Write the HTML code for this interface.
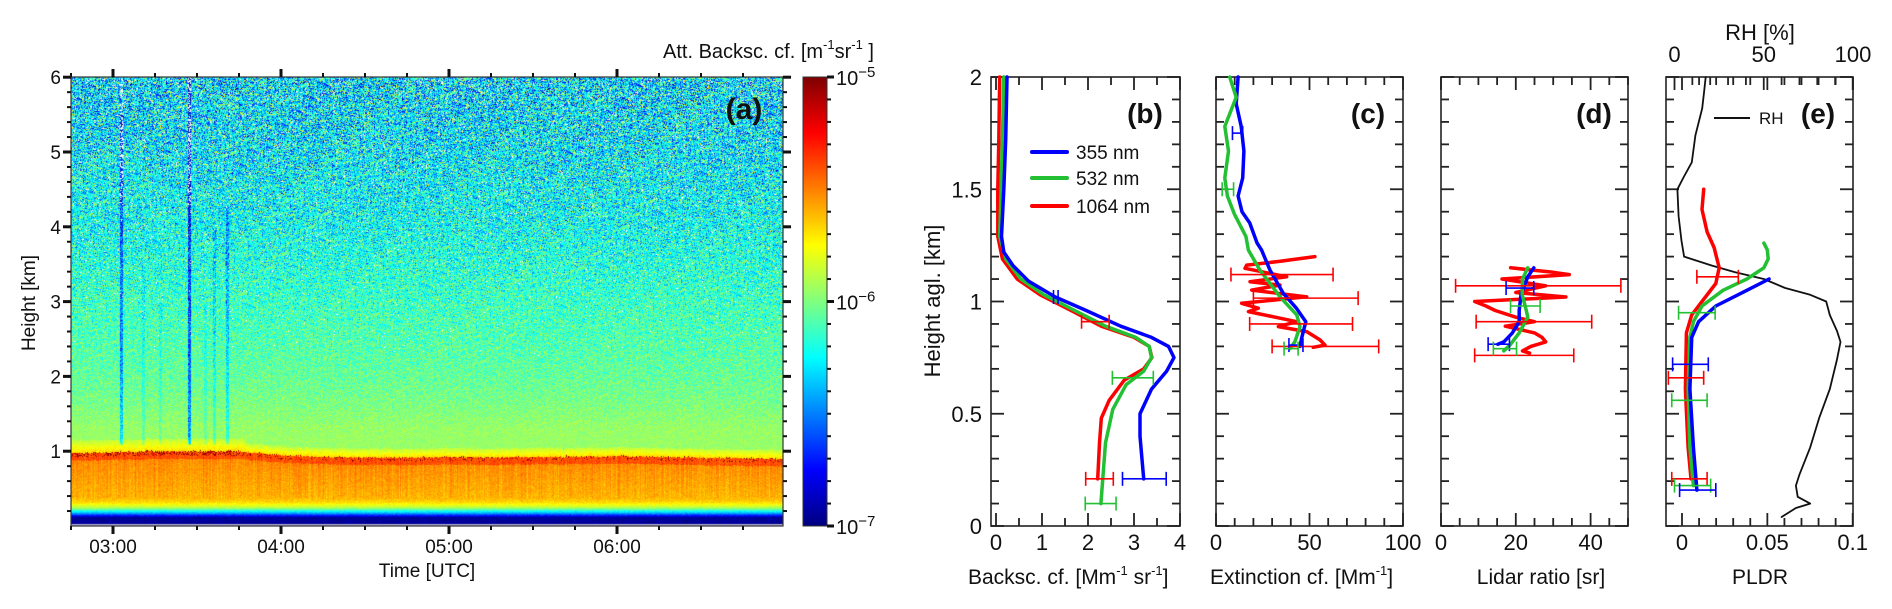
<!DOCTYPE html>
<html><head><meta charset="utf-8">
<style>
html,body{margin:0;padding:0;background:#fff;}
#wrap{position:relative;width:1892px;height:609px;overflow:hidden;font-family:"Liberation Sans",Arial,sans-serif;}
#heat{position:absolute;left:71px;top:77px;}
#svg{position:absolute;left:0;top:0;}
</style></head>
<body>
<div id="wrap">
<canvas id="heat" width="712" height="449"></canvas>
<svg id="svg" width="1892" height="609" xmlns="http://www.w3.org/2000/svg">
<defs>
<linearGradient id="jet" x1="0" y1="1" x2="0" y2="0">
<stop offset="0" stop-color="#00007f"/><stop offset="0.125" stop-color="#0000ff"/>
<stop offset="0.375" stop-color="#00ffff"/><stop offset="0.625" stop-color="#ffff00"/>
<stop offset="0.875" stop-color="#ff0000"/><stop offset="1" stop-color="#7f0000"/>
</linearGradient>
</defs>
<g id="layer"></g>
</svg>
</div>
<script>
// ---------- Panel (a) quicklook data ----------
const timeStartHr = 2.75, timeEndHr = 6.988;
const timeTicks = [3,4,5,6];
const timeTickLabels = ["03:00","04:00","05:00","06:00"];
const heightTicksA = [1,2,3,4,5,6];
const cloudTopTimes = [2.75,3.0,3.25,3.5,3.75,4.0,4.25,4.5,4.75,5.0,5.25,5.5,5.75,6.0,6.25,6.5,6.75,7.0];
const cloudTopKm   = [0.98,0.99,1.0,1.0,1.0,0.95,0.93,0.92,0.92,0.93,0.92,0.93,0.93,0.94,0.93,0.92,0.91,0.9];
const upperHeights = [1.3,1.6,2,3,4,5,6];
const upperLog     = [-5.95,-6.0,-6.05,-6.13,-6.22,-6.27,-6.3];
const streakTimes    = [3.05,3.18,3.28,3.45,3.55,3.6,3.68];
const streakStrength = [0.5,0.15,0.12,0.65,0.12,0.2,0.3];
const streakTopKm    = [5.5,3.5,3.0,6.0,3.0,4.0,4.3];
const cbarTickLabels = ["−5","−6","−7"];

// ---------- Panels (b)-(e) profile data ----------
const bH355=[2.0,1.72,1.5,1.29,1.22,1.16,1.09,1.02,0.96,0.89,0.84,0.80,0.75,0.69,0.61,0.50,0.40,0.21];
const bV355=[0.24,0.21,0.17,0.12,0.17,0.37,0.71,1.29,1.96,2.71,3.38,3.75,3.87,3.71,3.38,3.13,3.13,3.21];
const bH532=[2.0,1.72,1.5,1.29,1.19,1.10,1.03,0.96,0.89,0.84,0.80,0.75,0.69,0.63,0.52,0.37,0.10];
const bV532=[0.17,0.14,0.11,0.08,0.21,0.54,1.04,1.71,2.38,3.04,3.33,3.38,3.21,2.83,2.54,2.38,2.28];
const bH1064=[2.0,1.72,1.5,1.29,1.19,1.10,1.03,0.96,0.89,0.84,0.80,0.75,0.70,0.65,0.56,0.48,0.37,0.21];
const bV1064=[0.08,0.06,0.04,0.04,0.14,0.46,0.96,1.63,2.29,3.0,3.33,3.39,3.21,2.79,2.46,2.29,2.25,2.21];
const bErr355=[[1.02,1.25,1.35],[0.21,2.75,3.7]];
const bErr532=[[0.66,2.53,3.42],[0.10,1.94,2.61]];
const bErr1064=[[0.91,1.86,2.46],[0.21,1.95,2.55]];

const cH355=[2.0,1.88,1.78,1.67,1.55,1.47,1.40,1.35,1.26,1.229,1.14,1.036,0.97,0.91,0.836,0.80];
const cV355=[11.8,10.8,13.5,14.9,14.3,11.8,13.9,18,22,24.4,28.9,36,43,48,45.8,44.9];
const cH532=[2.0,1.91,1.78,1.67,1.55,1.47,1.39,1.29,1.229,1.14,1.021,0.94,0.888,0.821,0.79];
const cV532=[7.3,10.8,4.7,6.7,4.7,6.1,9.8,16,17.3,23.5,34.2,43.2,44.9,42.2,39.5];
const cH1064=[1.20,1.178,1.162,1.148,1.11,1.088,1.073,1.051,1.021,0.992,0.97,0.955,0.932,0.91,0.888,0.866,0.829,0.806,0.796];
const cV1064=[52.9,33.3,16.4,15.5,37.8,18.2,34.2,19.1,48.5,13.7,22.6,17.3,30.7,43.2,33.3,48.5,55.6,58.3,52];
const cErr355=[[1.75,8.8,14.3],[0.806,39,46.5]];
const cErr532=[[1.5,3.3,9.4],[0.79,36.4,43.9]];
const cErr1064=[[1.12,8,62.6],[1.015,20,76],[0.90,18,73],[0.80,30,87]];

const dH355=[1.15,1.11,1.03,0.96,0.91,0.86,0.82,0.81];
const dV355=[24.8,23.2,21.4,20.9,20.9,19.1,16.8,15.2];
const dH532=[1.15,1.10,1.03,0.96,0.93,0.86,0.81,0.78];
const dV532=[23.2,21.8,21.7,22.8,23.2,20.9,18.6,16.8];
const dH1064=[1.15,1.13,1.12,1.10,1.07,1.04,1.02,1.00,0.98,0.96,0.93,0.91,0.89,0.86,0.84,0.82,0.80,0.78,0.77];
const dV1064=[18.6,30,34.3,16.3,28,20,33.4,9,12,14.5,20,25,17.2,25,27,28,24,21.8,23.7];
const dErr355=[[1.06,17.4,24.8],[0.81,12.6,18.3]];
const dErr532=[[0.98,18.6,26.5],[0.79,14,20.2]];
const dErr1064=[[1.07,3.9,48.1],[0.91,9.4,40.3],[0.76,9,35.5]];

const eH355=[1.10,1.05,0.98,0.91,0.84,0.61,0.35,0.16];
const eV355=[0.051,0.038,0.0198,0.0097,0.0057,0.0046,0.0067,0.0087];
const eH532=[1.26,1.23,1.19,1.15,1.10,1.05,0.98,0.91,0.84,0.61,0.35,0.18];
const eV532=[0.048,0.05,0.0505,0.048,0.038,0.024,0.0117,0.0067,0.0046,0.0036,0.0046,0.0067];
const eH1064=[1.50,1.41,1.31,1.24,1.15,1.08,1.00,0.94,0.86,0.61,0.35,0.21];
const eV1064=[0.0127,0.0117,0.0147,0.0188,0.0218,0.0198,0.0117,0.0057,0.0026,0.002,0.0036,0.0053];
const eErr355=[[0.72,-0.0055,0.0154],[0.16,-0.0014,0.0198]];
const eErr532=[[0.95,-0.002,0.0194],[0.56,-0.006,0.0147],[0.18,-0.0044,0.0168]];
const eErr1064=[[1.11,0.0087,0.033],[0.66,-0.008,0.0127],[0.21,-0.006,0.0147]];
const rhHeights=[2.0,1.93,1.86,1.74,1.62,1.55,1.50,1.38,1.27,1.20,1.16,1.13,1.10,1.06,1.03,1.00,0.94,0.87,0.82,0.74,0.61,0.48,0.35,0.23,0.18,0.13,0.10,0.08,0.04];
const rhValues =[17.5,16.5,15.5,11.7,9.7,4.9,1.6,2.3,3.9,5.4,21,34,50,62,76,85,87,91,93,91,87,81,76,70,68,69,76,68,60];

// ---------- helpers ----------
const NS="http://www.w3.org/2000/svg";
const layer=document.getElementById('layer');
function el(tag,attrs,parent){const e=document.createElementNS(NS,tag);for(const k in attrs)e.setAttribute(k,attrs[k]);(parent||layer).appendChild(e);return e;}
const Y0=526, KMPX=224.5;
function yk(h){return Y0-h*KMPX;}
function lin(d0,d1,r0,r1){return v=>r0+(v-d0)*(r1-r0)/(d1-d0);}
const FONT='"Liberation Sans",Arial,sans-serif';
function text(str,x,y,size,anchor,parent,weight){
  const t=el('text',{x:x,y:y,'font-size':size,'text-anchor':anchor||'middle','font-family':FONT,fill:'#111'},parent);
  if(weight)t.setAttribute('font-weight',weight);
  t.textContent=str;return t;
}

// ---------- Panel (a) heatmap ----------
// seeded texture generator for the raster speckle only
let seed=12345;
function rnd(){seed=(seed*1103515245+12345)&0x7fffffff;return seed/0x7fffffff;}
function gauss(){return (rnd()+rnd()+rnd()+rnd()-2)*0.866;}
function interp(xs,ys,x){if(x<=xs[0])return ys[0];for(let i=1;i<xs.length;i++){if(x<=xs[i]){const f=(x-xs[i-1])/(xs[i]-xs[i-1]);return ys[i-1]+f*(ys[i]-ys[i-1]);}}return ys[ys.length-1];}
function jet(t){t=Math.max(0,Math.min(1,t));const c=v=>Math.round(255*Math.max(0,Math.min(1,v)));return [c(1.5-Math.abs(4*t-3)),c(1.5-Math.abs(4*t-2)),c(1.5-Math.abs(4*t-1))];}
function baseLog(h,ct,early){
  if(h<0.13)return -6.95;
  if(h<0.38)return interp([0.13,0.18,0.25,0.32,0.38],[-6.85,-6.4,-5.9,-5.68,-5.6],h);
  if(h<ct-0.1)return -5.6+(h-0.38)/(ct-0.48)*0.08;
  if(h<ct)return -5.4;
  const yb=early?0.17:0.12;
  if(h<ct+yb)return -5.68-(h-ct)/yb*0.2;
  return interp(upperHeights,upperLog,h);
}
(function(){
  const cv=document.getElementById('heat');const ctx=cv.getContext('2d');
  const W=cv.width,H=cv.height;const img=ctx.createImageData(W,H);
  const hrPerPx=(timeEndHr-timeStartHr)/W;
  for(let i=0;i<W;i++){
    const t=timeStartHr+i*hrPerPx;
    const ct=interp(cloudTopTimes,cloudTopKm,t)+gauss()*0.01;
    const early=t<3.78;
    const colN=gauss()*0.05;
    for(let j=0;j<H;j++){
      const h=(H-j)/74.8;
      let idx=(j*W+i)*4;
      if(h<0.03){img.data[idx]=170;img.data[idx+1]=170;img.data[idx+2]=205;img.data[idx+3]=255;continue;}
      let v=baseLog(h,ct,early);
      const sd=h<1.2?0.04:0.05+(h-1.2)*0.065;
      v+=gauss()*sd*1.6+(h>0.38&&h<ct?colN:0);
      if(h>ct-0.05&&h<ct+0.01&&rnd()<(early?0.35:0.12))v=-5.05;
      let white=rnd()<Math.max(0,h-2.2)*0.012;
      for(let s=0;s<streakTimes.length;s++){
        if(Math.abs(t-streakTimes[s])<0.009&&h>ct+0.1){
          if(h<streakTopKm[s])v-=streakStrength[s]*(0.5+0.5*rnd());
          if(h>4.3&&streakStrength[s]>0.45&&rnd()<0.35)white=true;
        }
      }
      let c=white?[255,255,255]:jet((v+7)/2);
      img.data[idx]=c[0];img.data[idx+1]=c[1];img.data[idx+2]=c[2];img.data[idx+3]=255;
    }
  }
  ctx.putImageData(img,0,0);
})();

// axes for (a)
const AX0=71,AX1=783,AY0=77,AY1=526;
const xa=lin(timeStartHr,timeEndHr,AX0,AX1);
const ya=h=>AY1-h*74.8;
const ga=el('g',{});


el('rect',{x:AX0,y:AY0,width:AX1-AX0,height:AY1-AY0,fill:'none',stroke:'#333','stroke-width':1.2},ga);
for(let k=0;k<=17;k++){const t=2.75+k*0.25;if(t>timeEndHr)break;const x=xa(t);const major=Math.abs(t-Math.round(t))<1e-6;
  const L=major?8:4;const w=major?3:2;
  el('line',{x1:x,y1:AY1,x2:x,y2:AY1+L,stroke:'#111','stroke-width':w},ga);
  el('line',{x1:x,y1:AY0,x2:x,y2:AY0-L,stroke:'#111','stroke-width':w},ga);}
for(let k=0;k<=30;k++){const h=k*0.2;const y=ya(h);const major=k%5===0;const L=major?8:4;const w=major?3:2;
  if(h<0.05)continue;
  el('line',{x1:AX0,y1:y,x2:AX0-L,y2:y,stroke:'#111','stroke-width':w},ga);
  el('line',{x1:AX1,y1:y,x2:AX1+L,y2:y,stroke:'#111','stroke-width':w},ga);}
timeTicks.forEach((t,i)=>{const tt=text(timeTickLabels[i],xa(t),553,19,'middle',ga);});
heightTicksA.forEach(h=>{const tt=text(String(h),61,ya(h)+7,19,'end',ga);});
const tl=text('Time [UTC]',427,577,19,'middle',ga);

const hl=text('Height [km]',0,0,19,'middle',ga);
hl.setAttribute('transform','translate(35,303) rotate(-90)');

const la=text('(a)',744,119,30,'middle',ga,'bold');


// colorbar
const gc=el('g',{});


el('rect',{x:803,y:77,width:24,height:449,fill:'url(#jet)',stroke:'#333','stroke-width':1},gc);
for(let k=0;k<=20;k++){const y=77+k*449/20;const major=k%10===0;
  el('line',{x1:827,y1:y,x2:827+(major?7:4),y2:y,stroke:'#111','stroke-width':major?3:2},gc);}
cbarTickLabels.forEach((s,i)=>{const y=77+i*224.5+8;const t=text('10',836,y,20,'start',gc);
  const sp=el('tspan',{'font-size':15,dy:-8},t);sp.textContent=s;
  });
const ct=text('Att. Backsc. cf. [m',663,58,20,'start',gc);

(function(){const a=el('tspan',{'font-size':13,dy:-9},ct);a.textContent='-1';
 const b=el('tspan',{dy:9},ct);b.textContent='sr';
 const c=el('tspan',{'font-size':13,dy:-9},ct);c.textContent='-1';
 const d=el('tspan',{dy:9},ct);d.textContent=' ]';})();

// ---------- profile panels ----------
const COL={b355:'#0000ff',g532:'#22c032',r1064:'#ff0000'};
function panelFrame(name,x0,x1,xs,tickStep,majorEvery,tickVals,tickLabels,ticksDomain){
  const g=el('g',{});
  
  
  el('rect',{x:x0,y:77,width:x1-x0,height:449,fill:'none',stroke:'#222','stroke-width':1.6},g);
  for(let k=0;k<=20;k++){const y=yk(k*0.1);const major=k%5===0;const L=major?13:8;
    el('line',{x1:x0,y1:y,x2:x0+L,y2:y,stroke:'#222','stroke-width':1.8},g);
    el('line',{x1:x1,y1:y,x2:x1-L,y2:y,stroke:'#222','stroke-width':1.8},g);}
  const [d0,d1]=ticksDomain;const n=Math.round((d1-d0)/tickStep);
  for(let k=0;k<=n;k++){const v=d0+k*tickStep;const x=xs(v);const major=k%majorEvery===0;const L=major?13:8;
    el('line',{x1:x,y1:526,x2:x,y2:526-L,stroke:'#222','stroke-width':1.8},g);
    el('line',{x1:x,y1:77,x2:x,y2:77+L,stroke:'#222','stroke-width':1.8},g);}
  tickVals.forEach((v,i)=>{const t=text(tickLabels[i],xs(v),550,22,'middle',g);});
  return g;
}
function drawLine(g,xs,H,V,color,w,name){
  const d=H.map((h,i)=>(i?'L':'M')+xs(V[i]).toFixed(1)+','+yk(h).toFixed(1)).join(' ');
  const p=el('path',{d:d,fill:'none',stroke:color,'stroke-width':w,'stroke-linejoin':'round','stroke-linecap':'round'},g);
  
  
  return p;
}
function drawErr(g,xs,errs,color,name){
  errs.forEach(e=>{const y=yk(e[0]);const a=xs(e[1]),b=xs(e[2]);
    const gg=el('g',{stroke:color,'stroke-width':1.6},g);
    
    
    el('line',{x1:a,y1:y,x2:b,y2:y},gg);
    el('line',{x1:a,y1:y-7,x2:a,y2:y+7},gg);
    el('line',{x1:b,y1:y-7,x2:b,y2:y+7},gg);});
}
// (b)
const xb=lin(0,4,996,1180);
const gb=panelFrame('panel-b',991,1180,xb,0.5,2,[0,1,2,3,4],['0','1','2','3','4'],[0,4]);
[[0,'0'],[0.5,'0.5'],[1,'1'],[1.5,'1.5'],[2,'2']].forEach(([h,s])=>{const t=text(s,982,yk(h)+8,22,'end',gb);});
drawLine(gb,xb,bH1064,bV1064,COL.r1064,3.5,'line-1064nm-b');
drawLine(gb,xb,bH532,bV532,COL.g532,3.5,'line-532nm-b');
drawLine(gb,xb,bH355,bV355,COL.b355,3.5,'line-355nm-b');
drawErr(gb,xb,bErr1064,COL.r1064,'errorbar-1064nm-b');
drawErr(gb,xb,bErr532,COL.g532,'errorbar-532nm-b');
drawErr(gb,xb,bErr355,COL.b355,'errorbar-355nm-b');
[['355 nm',COL.b355,152],['532 nm',COL.g532,178],['1064 nm',COL.r1064,206]].forEach(([s,c,y])=>{
  const lg=el('g',{},gb);
  
  
  el('line',{x1:1032,y1:y,x2:1067,y2:y,stroke:c,'stroke-width':4,'stroke-linecap':'round'},lg);
  text(s,1076,y+7,19,'start',lg);});
const lb=text('(b)',1145,123,28,'middle',gb,'bold');

const yl=text('Height agl. [km]',0,0,22,'middle',gb);
yl.setAttribute('transform','translate(940,301) rotate(-90)');

const tb=text('Backsc. cf. [Mm',968,584,21,'start',gb);

(function(){const a=el('tspan',{'font-size':13,dy:-9},tb);a.textContent='-1';
 const b=el('tspan',{dy:9},tb);b.textContent=' sr';
 const c=el('tspan',{'font-size':13,dy:-9},tb);c.textContent='-1';
 const d=el('tspan',{dy:9},tb);d.textContent=']';})();
// (c)
const xc=lin(0,100,1216,1403);
const gcP=panelFrame('panel-c',1216,1403,xc,10,5,[0,50,100],['0','50','100'],[0,100]);
drawLine(gcP,xc,cH1064,cV1064,COL.r1064,3.5,'line-1064nm-c');
drawLine(gcP,xc,cH355,cV355,COL.b355,3.5,'line-355nm-c');
drawLine(gcP,xc,cH532,cV532,COL.g532,3.5,'line-532nm-c');
drawErr(gcP,xc,cErr1064,COL.r1064,'errorbar-1064nm-c');
drawErr(gcP,xc,cErr355,COL.b355,'errorbar-355nm-c');
drawErr(gcP,xc,cErr532,COL.g532,'errorbar-532nm-c');
const lc=text('(c)',1368,123,28,'middle',gcP,'bold');

const tc=text('Extinction cf. [Mm',1210,584,21,'start',gcP);

(function(){const a=el('tspan',{'font-size':13,dy:-9},tc);a.textContent='-1';
 const d=el('tspan',{dy:9},tc);d.textContent=']';})();
// (d)
const xd=lin(0,50,1441,1628);
const gd=panelFrame('panel-d',1441,1628,xd,5,4,[0,20,40],['0','20','40'],[0,50]);
drawLine(gd,xd,dH1064,dV1064,COL.r1064,3.5,'line-1064nm-d');
drawLine(gd,xd,dH355,dV355,COL.b355,3.5,'line-355nm-d');
drawLine(gd,xd,dH532,dV532,COL.g532,3.5,'line-532nm-d');
drawErr(gd,xd,dErr1064,COL.r1064,'errorbar-1064nm-d');
drawErr(gd,xd,dErr355,COL.b355,'errorbar-355nm-d');
drawErr(gd,xd,dErr532,COL.g532,'errorbar-532nm-d');
const ld=text('(d)',1594,123,28,'middle',gd,'bold');

const td=text('Lidar ratio [sr]',1541,584,21,'middle',gd);

// (e)
const xe=lin(0,0.1,1682,1852.7);
const xrh=lin(0,100,1674.5,1853);
const ge=panelFrame('panel-e',1666,1853,xe,0.01,5,[0,0.05,0.1],['0','0.05','0.1'],[0,0.1]);
for(let k=0;k<=10;k++){const x=xrh(k*10);const major=k%5===0;
  el('line',{x1:x,y1:77,x2:x,y2:77+(major?13:8),stroke:'#222','stroke-width':1.8},ge);}
[[0,'0'],[50,'50'],[100,'100']].forEach(([v,s])=>{const t=text(s,xrh(v),62,22,'middle',ge);});
const rt=text('RH [%]',1760,40,22,'middle',ge);

drawLine(ge,xrh,rhHeights,rhValues,'#111',1.8,'line-rh');
drawLine(ge,xe,eH1064,eV1064,COL.r1064,3.5,'line-1064nm-e');
drawLine(ge,xe,eH532,eV532,COL.g532,3.5,'line-532nm-e');
drawLine(ge,xe,eH355,eV355,COL.b355,3.5,'line-355nm-e');
drawErr(ge,xe,eErr1064,COL.r1064,'errorbar-1064nm-e');
drawErr(ge,xe,eErr532,COL.g532,'errorbar-532nm-e');
drawErr(ge,xe,eErr355,COL.b355,'errorbar-355nm-e');
(function(){const lg=el('g',{},ge);
 
 
 el('line',{x1:1714,y1:118,x2:1750,y2:118,stroke:'#111','stroke-width':2},lg);
 text('RH',1759,124,17,'start',lg);})();
const le=text('(e)',1818,123,28,'middle',ge,'bold');

const te=text('PLDR',1760,584,21,'middle',ge);

</script>
</body></html>
